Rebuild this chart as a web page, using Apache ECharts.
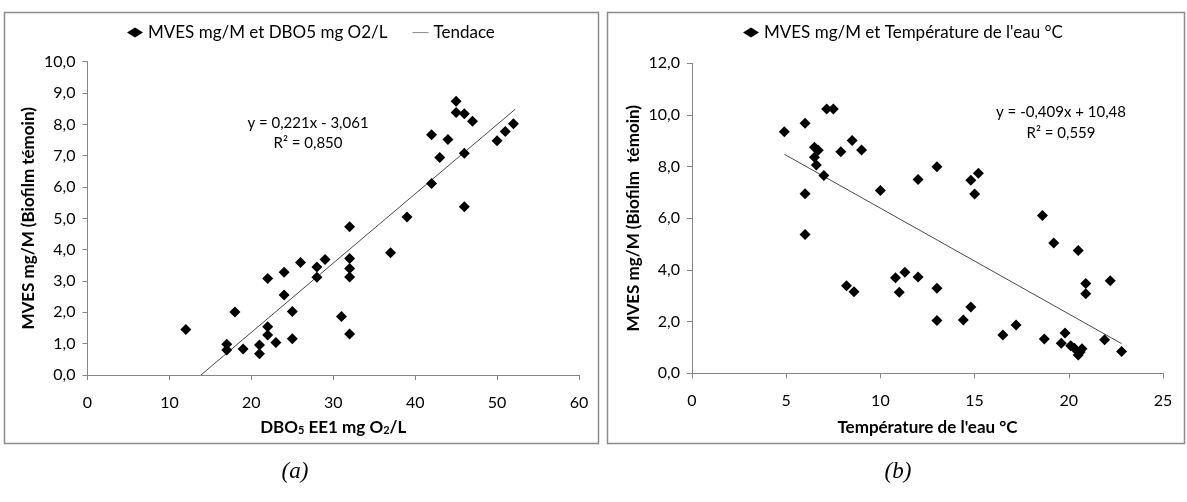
<!DOCTYPE html>
<html><head><meta charset="utf-8">
<script src="https://cdn.jsdelivr.net/npm/echarts@6/dist/echarts.min.js"></script>
<style>html,body{margin:0;padding:0;background:#fff}#c{width:1187px;height:502px}</style>
</head><body><div id="c"></div>
<script>
// Panel (a): DBO5 EE1 (mg O2/L) vs MVES mg/M
const dboX = [12,17,17,18,19,21,21,22,22,22,23,24,24,25,25,26,28,28,29,31,32,32,32,32,32,37,39,42,42,43,44,45,45,46,46,46,47,50,51,52];
const dboY = [1.45,0.98,0.80,2.01,0.83,0.96,0.68,1.54,1.28,3.08,1.04,3.28,2.55,2.03,1.16,3.59,3.45,3.12,3.69,1.87,4.73,3.72,3.40,3.13,1.31,3.90,5.04,7.67,6.11,6.94,7.52,8.74,8.38,8.34,7.08,5.37,8.10,7.48,7.77,8.02];
const trendAX = [13.85, 52.2];
const trendAY = [0.0, 8.48];
// Panel (b): Température de l'eau (°C) vs MVES mg/M
const tempX = [4.9,6.0,7.15,7.5,6.5,6.7,6.5,6.6,7.0,7.9,8.5,9.0,6.0,10.0,12.0,13.0,14.8,15.2,15.0,18.6,6.0,8.2,8.6,10.8,11.3,12.0,11.0,13.0,13.0,14.4,14.8,16.5,17.2,19.2,20.5,20.9,20.9,22.2,18.7,19.8,19.6,20.1,20.3,20.7,20.5,20.6,21.9,22.8];
const tempY = [9.35,9.68,10.23,10.23,8.75,8.63,8.36,8.06,7.66,8.58,9.01,8.64,6.95,7.08,7.50,8.00,7.47,7.74,6.94,6.11,5.37,3.39,3.16,3.70,3.91,3.73,3.14,3.29,2.04,2.06,2.57,1.48,1.87,5.04,4.75,3.48,3.08,3.58,1.33,1.56,1.16,1.07,0.97,0.95,0.71,0.82,1.30,0.84];
const trendBX = [4.9, 22.8];
const trendBY = [8.48, 1.15];
const nameA = 'MVES mg/M et DBO5 mg O2/L';
const nameTrend = 'Tendace';
const nameB = "MVES mg/M et Température de l'eau °C";
const eqA = ['y = 0,221x - 3,061', 'R² = 0,850'];
const eqB = ['y = -0,409x + 10,48', 'R² = 0,559'];

const FONT = 'Lato';
const zip = (a, b) => a.map((v, i) => [v, b[i]]);
const comma = v => v.toFixed(1).replace('.', ',');
const axisLine = {show: true, lineStyle: {color: '#868686', width: 1}};
const axisTick = {show: true, inside: false, length: 5, lineStyle: {color: '#868686'}};
const lbl = {color: '#000', fontFamily: FONT, fontSize: 16};
const titleStyle = {color: '#000', fontFamily: FONT, fontSize: 17, fontWeight: 'bold'};
const lineIcon = 'path://M0,0L0,0M0,4.6L16,4.6L16,5.6L0,5.6ZM16,10L16,10';

const chart = echarts.init(document.getElementById('c'), null, {renderer: 'canvas'});
chart.setOption({
  animation: false,
  backgroundColor: '#fff',
  textStyle: {fontFamily: FONT},
  grid: [
    {left: 87.5, top: 61.7, width: 491.5, height: 313.3},
    {left: 692, top: 63.3, width: 471, height: 310}
  ],
  legend: [
    {left: 122, top: 19, itemWidth: 16, itemHeight: 10, itemGap: 25,
     textStyle: {fontFamily: FONT, fontSize: 17, color: '#000'},
     data: [{name: nameA, icon: 'diamond', itemStyle: {color: '#000', opacity: 1}},
            {name: nameTrend, icon: lineIcon, itemStyle: {color: '#8a8a8a', opacity: 1}}]},
    {left: 738, top: 19, itemWidth: 16, itemHeight: 10,
     textStyle: {fontFamily: FONT, fontSize: 17, color: '#000'},
     data: [{name: nameB, icon: 'diamond', itemStyle: {color: '#000', opacity: 1}}]}
  ],
  xAxis: [
    {gridIndex: 0, type: 'value', min: 0, max: 60, interval: 10, splitLine: {show: false},
     axisLine, axisTick, axisLabel: Object.assign({margin: 20}, lbl),
     name: '{b|DBO}{s|5}{b| EE1 mg O}{s|2}{b|/L}', nameLocation: 'middle', nameGap: 44,
     nameTextStyle: {rich: {
       b: {fontFamily: FONT, fontSize: 17, fontWeight: 'bold', color: '#000'},
       s: {fontFamily: FONT, fontSize: 11, fontWeight: 'bold', color: '#000', verticalAlign: 'bottom', padding: [6, 0, 0, 0]}
     }}},
    {gridIndex: 1, type: 'value', min: 0, max: 25, interval: 5, splitLine: {show: false},
     axisLine, axisTick, axisLabel: Object.assign({margin: 20}, lbl),
     name: "Température de l'eau °C", nameLocation: 'middle', nameGap: 46, nameTextStyle: titleStyle}
  ],
  yAxis: [
    {gridIndex: 0, type: 'value', min: 0, max: 10, interval: 1, splitLine: {show: false},
     axisLine, axisTick, axisLabel: Object.assign({margin: 12, formatter: comma}, lbl),
     name: 'MVES mg/M (Biofilm témoin)', nameLocation: 'middle', nameGap: 50, nameTextStyle: titleStyle},
    {gridIndex: 1, type: 'value', min: 0, max: 12, interval: 2, splitLine: {show: false},
     axisLine, axisTick, axisLabel: Object.assign({margin: 12, formatter: comma}, lbl),
     name: 'MVES mg/M (Biofilm  témoin)', nameLocation: 'middle', nameGap: 50, nameTextStyle: titleStyle}
  ],
  series: [
    {name: nameA, type: 'scatter', xAxisIndex: 0, yAxisIndex: 0, symbol: 'diamond', symbolSize: 11,
     itemStyle: {color: '#000', opacity: 1}, data: zip(dboX, dboY), z: 3},
    {name: nameTrend, type: 'line', xAxisIndex: 0, yAxisIndex: 0, symbol: 'none',
     lineStyle: {color: '#4a4a4a', width: 1}, itemStyle: {color: '#8a8a8a'}, data: zip(trendAX, trendAY), z: 2},
    {name: nameB, type: 'scatter', xAxisIndex: 1, yAxisIndex: 1, symbol: 'diamond', symbolSize: 11,
     itemStyle: {color: '#000', opacity: 1}, data: zip(tempX, tempY), z: 3},
    {name: 'trendB', type: 'line', xAxisIndex: 1, yAxisIndex: 1, symbol: 'none',
     lineStyle: {color: '#4a4a4a', width: 1}, data: zip(trendBX, trendBY), z: 2}
  ],
  graphic: [
    {type: 'rect', shape: {x: 4.5, y: 12.5, width: 594, height: 431}, style: {fill: 'none', stroke: '#8c8c8c', lineWidth: 1.5}, silent: true},
    {type: 'rect', shape: {x: 607.5, y: 12.5, width: 577, height: 431}, style: {fill: 'none', stroke: '#8c8c8c', lineWidth: 1.5}, silent: true},
    {type: 'text', x: 308, y: 123, style: {text: eqA[0], fill: '#000', font: '15px Lato', align: 'center', verticalAlign: 'middle'}},
    {type: 'text', x: 308, y: 143, style: {text: eqA[1], fill: '#000', font: '15px Lato', align: 'center', verticalAlign: 'middle'}},
    {type: 'text', x: 1061, y: 112, style: {text: eqB[0], fill: '#000', font: '15px Lato', align: 'center', verticalAlign: 'middle'}},
    {type: 'text', x: 1061, y: 133, style: {text: eqB[1], fill: '#000', font: '15px Lato', align: 'center', verticalAlign: 'middle'}},
    {type: 'text', x: 295, y: 472, style: {text: '(a)', fill: '#000', font: 'italic 23px "Liberation Serif"', align: 'center', verticalAlign: 'middle'}},
    {type: 'text', x: 898, y: 472, style: {text: '(b)', fill: '#000', font: 'italic 23px "Liberation Serif"', align: 'center', verticalAlign: 'middle'}}
  ]
});
</script></body></html>
